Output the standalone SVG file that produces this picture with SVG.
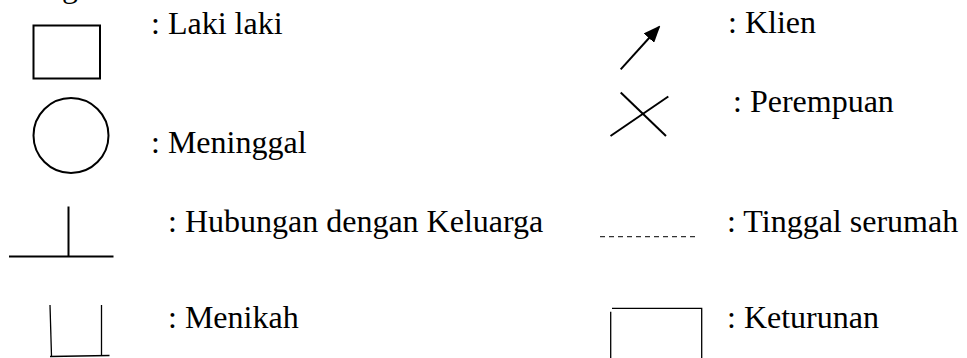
<svg xmlns="http://www.w3.org/2000/svg" width="967" height="358" viewBox="0 0 967 358">
  <style>
    .lbl { font-family: "Liberation Serif", "Times New Roman", serif; font-size: 32px; fill: #000; }
    .sym { fill: none; stroke: #000; stroke-width: 2; }
    .thin { fill: none; stroke: #000; stroke-width: 1.3; }
  </style>
  <defs>
    <marker id="arrowhead" markerWidth="17" markerHeight="14" refX="15" refY="7" orient="auto" markerUnits="userSpaceOnUse" viewBox="0 0 17 14">
      <path d="M0,0 L17,7 L0,14 Z" fill="#000"/>
    </marker>
  </defs>
  <rect width="967" height="358" fill="#fff"/>

  <!-- heading, cut off by the top edge -->
  <text class="lbl" x="62" y="-3">g</text>

  <g id="laki-laki">
    <rect class="sym" x="33.5" y="25.5" width="66.5" height="53"/>
    <text class="lbl" x="151" y="34">: Laki laki</text>
  </g>

  <g id="meninggal">
    <circle class="sym" cx="71" cy="135.5" r="37.5"/>
    <text class="lbl" x="151" y="153">: Meninggal</text>
  </g>

  <g id="hubungan-keluarga">
    <line class="sym" x1="68.5" y1="206.5" x2="68.5" y2="256.5"/>
    <line class="sym" x1="9" y1="256.5" x2="113.5" y2="256.5"/>
    <text class="lbl" x="168" y="232">: Hubungan dengan Keluarga</text>
  </g>

  <g id="menikah">
    <line class="thin" x1="50" y1="305" x2="51.5" y2="356"/>
    <line class="thin" x1="101.5" y1="305" x2="101.5" y2="356"/>
    <line class="thin" x1="50" y1="356.5" x2="109.5" y2="355.5"/>
    <text class="lbl" x="168" y="328">: Menikah</text>
  </g>

  <g id="klien">
    <line class="sym" x1="620.7" y1="69.3" x2="659" y2="27" stroke-width="2.4" marker-end="url(#arrowhead)"/>
    <text class="lbl" x="728" y="33">: Klien</text>
  </g>

  <g id="perempuan">
    <line class="sym" x1="620.7" y1="92.5" x2="666" y2="136"/>
    <line class="sym" x1="610.5" y1="136" x2="668.3" y2="96.5"/>
    <text class="lbl" x="733" y="112">: Perempuan</text>
  </g>

  <g id="tinggal-serumah">
    <line x1="600" y1="236.7" x2="698" y2="236.7" stroke="#333" stroke-width="1.3" stroke-dasharray="5,4"/>
    <text class="lbl" x="727" y="232">: Tinggal serumah</text>
  </g>

  <g id="keturunan">
    <polyline class="thin" points="610.7,358 610.7,311.7"/>
    <polyline class="thin" points="612,308.3 701.7,308.3 701.7,358"/>
    <text class="lbl" x="727" y="328">: Keturunan</text>
  </g>
</svg>
